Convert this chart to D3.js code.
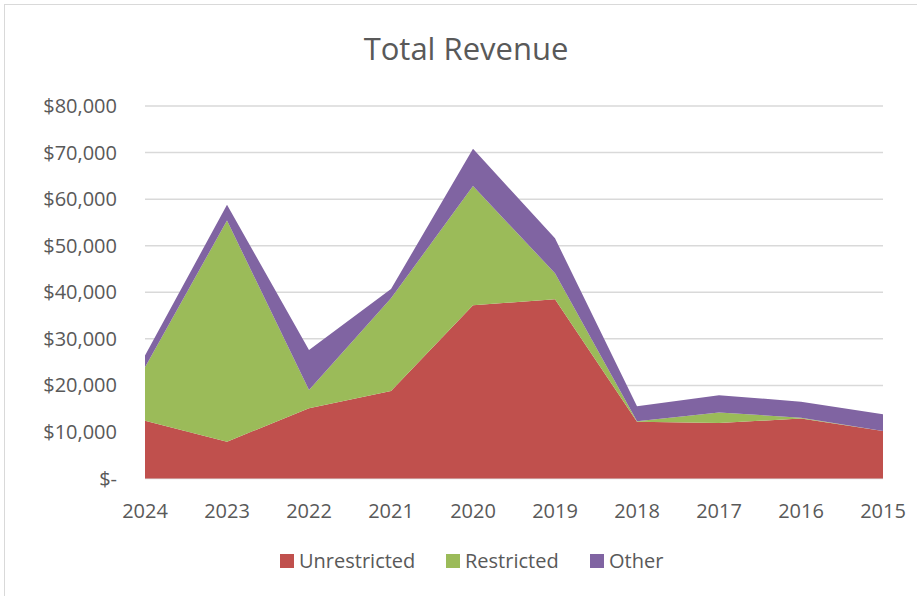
<!DOCTYPE html>
<html>
<head>
<meta charset="utf-8">
<script src="https://cdn.jsdelivr.net/npm/d3@7"></script>
<style>
  body { margin: 0; background: #fff; }
  text { font-family: "Open Sans", "Noto Sans", sans-serif; fill: #595959; }
</style>
</head>
<body>
<svg id="chart" width="917" height="596"></svg>
<script>
// Data
const years = ["2024", "2023", "2022", "2021", "2020", "2019", "2018", "2017", "2016", "2015"];
const unrestricted = [12400, 7900, 15100, 18800, 37200, 38500, 12200, 11900, 12900, 10200];
const restricted   = [11500, 47500, 3900, 19900, 25600, 5600, 100, 2300, 150, 0];
const other        = [2500, 3400, 8600, 2000, 8000, 7500, 3200, 3700, 3450, 3600];
const yTicks = [0, 10000, 20000, 30000, 40000, 50000, 60000, 70000, 80000];
const seriesNames = ["Unrestricted", "Restricted", "Other"];
const colors = ["#C0504D", "#9BBB59", "#8064A2"];

const svg = d3.select("#chart");

// chart border
svg.append("rect")
  .attr("x", 4.5).attr("y", 4.5)
  .attr("width", 930).attr("height", 610)
  .attr("fill", "#fff")
  .attr("stroke", "#D9D9D9");

const plotLeft = 145, plotRight = 883, plotTop = 106, plotBottom = 478.5;

const x = d3.scalePoint().domain(years).range([plotLeft, plotRight]);
const y = d3.scaleLinear().domain([0, 80000]).range([plotBottom, plotTop]);

// title
svg.append("text")
  .attr("x", 466).attr("y", 60)
  .attr("text-anchor", "middle")
  .attr("font-size", "31px")
  .text("Total Revenue");

// gridlines
svg.append("g")
  .selectAll("line")
  .data(yTicks)
  .join("line")
  .attr("x1", plotLeft).attr("x2", plotRight)
  .attr("y1", d => y(d)).attr("y2", d => y(d))
  .attr("stroke", "#D9D9D9")
  .attr("stroke-width", 1.5);

// stacked areas
const rows = years.map((yr, i) => ({
  year: yr,
  Unrestricted: unrestricted[i],
  Restricted: restricted[i],
  Other: other[i]
}));
const stacked = d3.stack().keys(seriesNames)(rows);

const area = d3.area()
  .x(d => x(d.data.year))
  .y0(d => y(d[0]))
  .y1(d => y(d[1]));

svg.append("g")
  .selectAll("path")
  .data(stacked)
  .join("path")
  .attr("d", area)
  .attr("fill", (d, i) => colors[i]);

// y axis labels
const fmt = d3.format("$,.0f");
svg.append("g")
  .selectAll("text")
  .data(yTicks)
  .join("text")
  .attr("x", 117)
  .attr("y", d => y(d) + 7)
  .attr("text-anchor", "end")
  .attr("font-size", "20px")
  .text(d => d === 0 ? "$-" : fmt(d));

// x axis labels
svg.append("g")
  .selectAll("text")
  .data(years)
  .join("text")
  .attr("x", d => x(d))
  .attr("y", 518)
  .attr("text-anchor", "middle")
  .attr("font-size", "20px")
  .text(d => d);

// legend
const legendX = [280, 446, 590];
const legend = svg.append("g")
  .selectAll("g")
  .data(seriesNames)
  .join("g")
  .attr("transform", (d, i) => `translate(${legendX[i]},554)`);
legend.append("rect")
  .attr("width", 14).attr("height", 14)
  .attr("fill", (d, i) => colors[i]);
legend.append("text")
  .attr("x", 19).attr("y", 14)
  .attr("font-size", "20px")
  .text(d => d);
</script>
</body>
</html>
